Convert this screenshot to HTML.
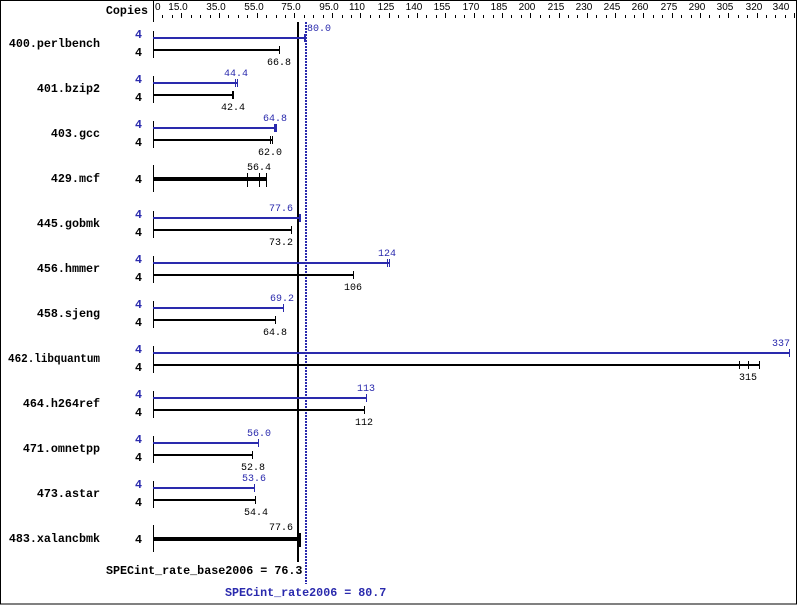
<!DOCTYPE html>
<html>
<head>
<meta charset="utf-8">
<style>
html,body{margin:0;padding:0;background:#fff;}
svg{display:block;}
.nm{font-family:"Liberation Mono",monospace;font-weight:bold;font-size:11.7px;}
.v{font-family:"Liberation Mono",monospace;font-size:10px;}
.t{font-family:"Liberation Sans",sans-serif;font-size:10px;}
</style>
</head>
<body>
<svg width="799" height="606" viewBox="0 0 799 606" xmlns="http://www.w3.org/2000/svg" shape-rendering="crispEdges">
<rect x="0" y="0" width="799" height="606" fill="#fff"/>
<rect x="0.5" y="0.5" width="796" height="603.5" fill="none" stroke="#000" stroke-width="1"/>

<!-- header -->
<text class="nm" x="148" y="14" text-anchor="end">Copies</text>
<rect x="153" y="0" width="1" height="22" fill="#000"/>
<g fill="#000">
<rect x="162" y="15" width="1" height="3"/><rect x="172" y="15" width="1" height="3"/><rect x="181" y="13" width="1" height="5"/>
<rect x="191" y="15" width="1" height="3"/><rect x="200" y="15" width="1" height="3"/><rect x="210" y="15" width="1" height="3"/><rect x="219" y="13" width="1" height="5"/>
<rect x="228" y="15" width="1" height="3"/><rect x="238" y="15" width="1" height="3"/><rect x="247" y="15" width="1" height="3"/><rect x="257" y="13" width="1" height="5"/>
<rect x="266" y="15" width="1" height="3"/><rect x="276" y="15" width="1" height="3"/><rect x="285" y="15" width="1" height="3"/><rect x="294" y="13" width="1" height="5"/>
<rect x="304" y="15" width="1" height="3"/><rect x="313" y="15" width="1" height="3"/><rect x="323" y="15" width="1" height="3"/><rect x="332" y="13" width="1" height="5"/>
<rect x="342" y="15" width="1" height="3"/><rect x="351" y="15" width="1" height="3"/><rect x="360" y="13" width="1" height="5"/>
<rect x="370" y="15" width="1" height="3"/><rect x="379" y="15" width="1" height="3"/><rect x="389" y="13" width="1" height="5"/>
<rect x="398" y="15" width="1" height="3"/><rect x="408" y="15" width="1" height="3"/><rect x="417" y="13" width="1" height="5"/>
<rect x="426" y="15" width="1" height="3"/><rect x="436" y="15" width="1" height="3"/><rect x="445" y="13" width="1" height="5"/>
<rect x="455" y="15" width="1" height="3"/><rect x="464" y="15" width="1" height="3"/><rect x="474" y="13" width="1" height="5"/>
<rect x="483" y="15" width="1" height="3"/><rect x="493" y="15" width="1" height="3"/><rect x="502" y="13" width="1" height="5"/>
<rect x="511" y="15" width="1" height="3"/><rect x="521" y="15" width="1" height="3"/><rect x="530" y="13" width="1" height="5"/>
<rect x="540" y="15" width="1" height="3"/><rect x="549" y="15" width="1" height="3"/><rect x="559" y="13" width="1" height="5"/>
<rect x="568" y="15" width="1" height="3"/><rect x="577" y="15" width="1" height="3"/><rect x="587" y="13" width="1" height="5"/>
<rect x="596" y="15" width="1" height="3"/><rect x="606" y="15" width="1" height="3"/><rect x="615" y="13" width="1" height="5"/>
<rect x="625" y="15" width="1" height="3"/><rect x="634" y="15" width="1" height="3"/><rect x="643" y="13" width="1" height="5"/>
<rect x="653" y="15" width="1" height="3"/><rect x="662" y="15" width="1" height="3"/><rect x="672" y="13" width="1" height="5"/>
<rect x="681" y="15" width="1" height="3"/><rect x="691" y="15" width="1" height="3"/><rect x="700" y="13" width="1" height="5"/>
<rect x="709" y="15" width="1" height="3"/><rect x="719" y="15" width="1" height="3"/><rect x="728" y="13" width="1" height="5"/>
<rect x="738" y="15" width="1" height="3"/><rect x="747" y="15" width="1" height="3"/><rect x="757" y="13" width="1" height="5"/>
<rect x="766" y="15" width="1" height="3"/><rect x="775" y="15" width="1" height="3"/><rect x="785" y="15" width="1" height="3"/><rect x="794" y="13" width="1" height="5"/>
</g>
<g class="t" fill="#000" text-anchor="middle">
<text x="155" y="10" text-anchor="start">0</text>
<text x="178" y="10">15.0</text>
<text x="216" y="10">35.0</text>
<text x="254" y="10">55.0</text>
<text x="291" y="10">75.0</text>
<text x="329" y="10">95.0</text>
<text x="357" y="10">110</text>
<text x="386" y="10">125</text>
<text x="414" y="10">140</text>
<text x="442" y="10">155</text>
<text x="471" y="10">170</text>
<text x="499" y="10">185</text>
<text x="527" y="10">200</text>
<text x="556" y="10">215</text>
<text x="584" y="10">230</text>
<text x="612" y="10">245</text>
<text x="640" y="10">260</text>
<text x="669" y="10">275</text>
<text x="697" y="10">290</text>
<text x="725" y="10">305</text>
<text x="754" y="10">320</text>
<text x="781" y="10">340</text>
</g>

<!-- reference lines -->
<rect x="297" y="22" width="2" height="540" fill="#000"/>
<line x1="306" y1="22" x2="306" y2="584" stroke="#2a2aad" stroke-width="2" stroke-dasharray="2 1"/>

<!-- benchmark names -->
<g class="nm" fill="#000" text-anchor="end">
<text x="100" y="47">400.perlbench</text>
<text x="100" y="92">401.bzip2</text>
<text x="100" y="137">403.gcc</text>
<text x="100" y="182">429.mcf</text>
<text x="100" y="227">445.gobmk</text>
<text x="100" y="272">456.hmmer</text>
<text x="100" y="317">458.sjeng</text>
<text x="100" y="362" textLength="92" lengthAdjust="spacingAndGlyphs">462.libquantum</text>
<text x="100" y="407">464.h264ref</text>
<text x="100" y="452">471.omnetpp</text>
<text x="100" y="497">473.astar</text>
<text x="100" y="542">483.xalancbmk</text>
</g>

<!-- copies -->
<g class="nm" text-anchor="end">
<g fill="#2a2aad">
<text x="142" y="38">4</text>
<text x="142" y="83">4</text>
<text x="142" y="128">4</text>
<text x="142" y="218">4</text>
<text x="142" y="263">4</text>
<text x="142" y="308">4</text>
<text x="142" y="353">4</text>
<text x="142" y="398">4</text>
<text x="142" y="443">4</text>
<text x="142" y="488">4</text>
</g>
<g fill="#000">
<text x="142" y="56">4</text>
<text x="142" y="101">4</text>
<text x="142" y="146">4</text>
<text x="142" y="183">4</text>
<text x="142" y="236">4</text>
<text x="142" y="281">4</text>
<text x="142" y="326">4</text>
<text x="142" y="371">4</text>
<text x="142" y="416">4</text>
<text x="142" y="461">4</text>
<text x="142" y="506">4</text>
<text x="142" y="543">4</text>
</g>
</g>

<!-- axis segments per row -->
<g fill="#000">
<rect x="153" y="31" width="1" height="27"/>
<rect x="153" y="76" width="1" height="27"/>
<rect x="153" y="121" width="1" height="27"/>
<rect x="153" y="165" width="1" height="27"/>
<rect x="153" y="211" width="1" height="27"/>
<rect x="153" y="256" width="1" height="27"/>
<rect x="153" y="301" width="1" height="27"/>
<rect x="153" y="346" width="1" height="27"/>
<rect x="153" y="391" width="1" height="27"/>
<rect x="153" y="436" width="1" height="27"/>
<rect x="153" y="481" width="1" height="27"/>
<rect x="153" y="525" width="1" height="27"/>
</g>

<!-- blue bars -->
<g fill="#2a2aad">
<rect x="153" y="37" width="153" height="2"/>
<rect x="304" y="34" width="1" height="8"/><rect x="305" y="34" width="1" height="8"/>
<rect x="153" y="82" width="84" height="2"/>
<rect x="235" y="79" width="1" height="8"/><rect x="237" y="79" width="1" height="8"/>
<rect x="153" y="127" width="124" height="2"/>
<rect x="274" y="124" width="3" height="8"/>
<rect x="153" y="217" width="147" height="2"/>
<rect x="299" y="214" width="2" height="8"/>
<rect x="153" y="262" width="237" height="2"/>
<rect x="387" y="259" width="1" height="8"/><rect x="389" y="259" width="1" height="8"/>
<rect x="153" y="307" width="131" height="2"/>
<rect x="283" y="304" width="1" height="8"/>
<rect x="153" y="352" width="637" height="2"/>
<rect x="789" y="349" width="1" height="8"/>
<rect x="153" y="397" width="214" height="2"/>
<rect x="366" y="394" width="1" height="8"/>
<rect x="153" y="442" width="106" height="2"/>
<rect x="258" y="439" width="1" height="8"/>
<rect x="153" y="487" width="102" height="2"/>
<rect x="254" y="484" width="1" height="8"/>
</g>

<!-- black bars -->
<g fill="#000">
<rect x="153" y="49" width="127" height="2"/>
<rect x="279" y="46" width="1" height="8"/>

<rect x="153" y="94" width="81" height="2"/>
<rect x="232" y="91" width="1" height="8"/><rect x="233" y="91" width="1" height="8"/>

<rect x="153" y="139" width="119" height="2"/>
<rect x="270" y="136" width="1" height="8"/><rect x="272" y="136" width="1" height="8"/>

<rect x="153" y="177" width="114" height="4"/>
<rect x="247" y="173" width="1" height="14"/><rect x="259" y="173" width="1" height="14"/><rect x="266" y="173" width="1" height="14"/>

<rect x="153" y="229" width="139" height="2"/>
<rect x="291" y="226" width="1" height="8"/>

<rect x="153" y="274" width="200" height="2"/>
<rect x="353" y="271" width="1" height="8"/>

<rect x="153" y="319" width="123" height="2"/>
<rect x="275" y="316" width="1" height="8"/>

<rect x="153" y="364" width="607" height="2"/>
<rect x="739" y="361" width="1" height="8"/><rect x="748" y="361" width="1" height="8"/><rect x="759" y="361" width="1" height="8"/>

<rect x="153" y="409" width="212" height="2"/>
<rect x="364" y="406" width="1" height="8"/>

<rect x="153" y="454" width="100" height="2"/>
<rect x="252" y="451" width="1" height="8"/>

<rect x="153" y="499" width="103" height="2"/>
<rect x="255" y="496" width="1" height="8"/>

<rect x="153" y="537" width="148" height="4"/>
<rect x="297" y="533" width="1" height="14"/><rect x="299" y="533" width="1" height="14"/><rect x="300" y="533" width="1" height="14"/>
</g>

<!-- value labels -->
<g class="v" fill="#2a2aad" text-anchor="middle">
<text x="319" y="31">80.0</text>
<text x="236" y="76">44.4</text>
<text x="275" y="121">64.8</text>
<text x="281" y="211">77.6</text>
<text x="387" y="256">124</text>
<text x="282" y="301">69.2</text>
<text x="790" y="346" text-anchor="end">337</text>
<text x="366" y="391">113</text>
<text x="259" y="436">56.0</text>
<text x="254" y="481">53.6</text>
</g>
<g class="v" fill="#000" text-anchor="middle">
<text x="279" y="65">66.8</text>
<text x="233" y="110">42.4</text>
<text x="270" y="155">62.0</text>
<text x="259" y="170">56.4</text>
<text x="281" y="245">73.2</text>
<text x="353" y="290">106</text>
<text x="275" y="335">64.8</text>
<text x="748" y="380">315</text>
<text x="364" y="425">112</text>
<text x="253" y="470">52.8</text>
<text x="256" y="515">54.4</text>
<text x="281" y="530">77.6</text>
</g>

<!-- summary -->
<text class="nm" x="106" y="574" fill="#000">SPECint_rate_base2006 = 76.3</text>
<text class="nm" x="225" y="596" fill="#2a2aad">SPECint_rate2006 = 80.7</text>
</svg>
</body>
</html>
